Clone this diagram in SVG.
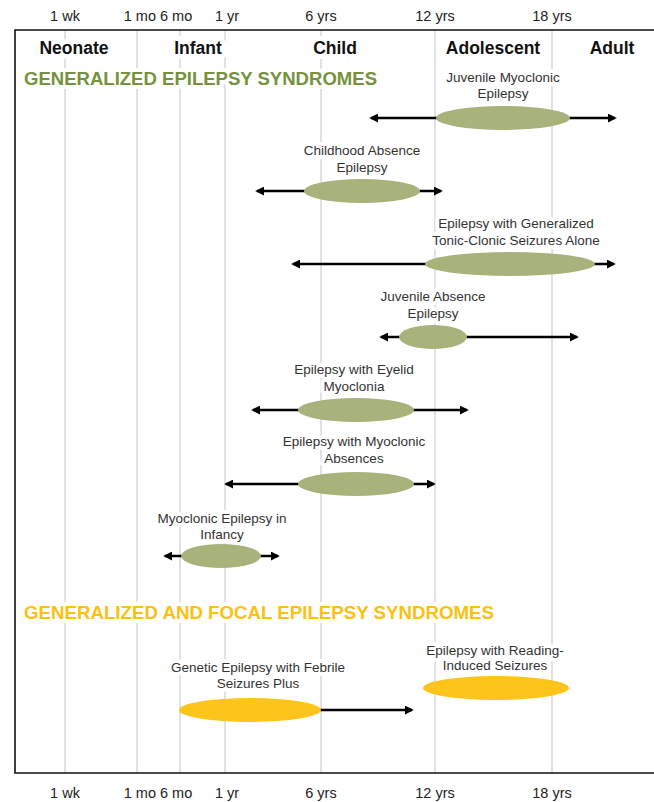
<svg xmlns="http://www.w3.org/2000/svg" width="654" height="802" viewBox="0 0 654 802">
<style>
  .tick{font-family:"Liberation Sans",Arial,sans-serif;font-size:14.5px;fill:#222;text-anchor:middle}
  .stage{font-family:"Liberation Sans",Arial,sans-serif;font-size:17.5px;font-weight:bold;fill:#111;text-anchor:middle;paint-order:stroke;stroke:#fff;stroke-width:10px;stroke-linejoin:round}
  .head{font-family:"Liberation Sans",Arial,sans-serif;font-size:18px;font-weight:bold;paint-order:stroke;stroke:#fff;stroke-width:8px;stroke-linejoin:round}
  .lbl{font-family:"Liberation Sans",Arial,sans-serif;font-size:13.5px;fill:#333;text-anchor:middle;paint-order:stroke;stroke:#fff;stroke-width:8px;stroke-linejoin:round}
  .grid{stroke:#c4c4c4;stroke-width:1}
  .frame{stroke:#111;stroke-width:1.6;fill:none}
  .arr{stroke:#000;stroke-width:2.5;fill:none}
  .olive{fill:#a8b37c}
  .gold{fill:#fdc419}
</style>
<defs>
  <marker id="ah" viewBox="0 0 10 10" refX="8" refY="5" markerWidth="9" markerHeight="9" markerUnits="userSpaceOnUse" orient="auto-start-reverse">
    <path d="M0,0 L10,5 L0,10 z" fill="#000"/>
  </marker>
</defs>
<rect width="654" height="802" fill="#fff"/>

<g id="axis-top">
  <text class="tick" x="65" y="21">1 wk</text>
  <text class="tick" x="158" y="21">1 mo 6 mo</text>
  <text class="tick" x="227" y="21">1 yr</text>
  <text class="tick" x="321" y="21">6 yrs</text>
  <text class="tick" x="435" y="21">12 yrs</text>
  <text class="tick" x="552" y="21">18 yrs</text>
</g>

<g id="grid">
  <line class="grid" x1="65" y1="30" x2="65" y2="773"/>
  <line class="grid" x1="137" y1="30" x2="137" y2="773"/>
  <line class="grid" x1="180" y1="30" x2="180" y2="773"/>
  <line class="grid" x1="225" y1="30" x2="225" y2="773"/>
  <line class="grid" x1="321" y1="30" x2="321" y2="773"/>
  <line class="grid" x1="435" y1="30" x2="435" y2="773"/>
  <line class="grid" x1="552" y1="30" x2="552" y2="773"/>
</g>

<g id="frame">
  <path class="frame" d="M654,30 H15 V773 H654"/>
</g>

<g id="stages">
  <text class="stage" x="74" y="54">Neonate</text>
  <text class="stage" x="198" y="54">Infant</text>
  <text class="stage" x="335" y="54">Child</text>
  <text class="stage" x="493" y="54">Adolescent</text>
  <text class="stage" x="612" y="54">Adult</text>
</g>

<g id="heading-generalized">
  <text class="head" x="24" y="85" fill="#76923c" textLength="353" lengthAdjust="spacingAndGlyphs">GENERALIZED EPILEPSY SYNDROMES</text>
</g>
<g id="heading-focal">
  <text class="head" x="24" y="619" fill="#fcc10f" textLength="470" lengthAdjust="spacingAndGlyphs">GENERALIZED AND FOCAL EPILEPSY SYNDROMES</text>
</g>

<g id="connectors">
  <line class="arr" x1="371" y1="118" x2="615" y2="118" marker-start="url(#ah)" marker-end="url(#ah)"/>
  <line class="arr" x1="257" y1="191" x2="441" y2="191" marker-start="url(#ah)" marker-end="url(#ah)"/>
  <line class="arr" x1="293" y1="264" x2="614" y2="264" marker-start="url(#ah)" marker-end="url(#ah)"/>
  <line class="arr" x1="381" y1="337" x2="577" y2="337" marker-start="url(#ah)" marker-end="url(#ah)"/>
  <line class="arr" x1="253" y1="410" x2="467" y2="410" marker-start="url(#ah)" marker-end="url(#ah)"/>
  <line class="arr" x1="226" y1="484" x2="434" y2="484" marker-start="url(#ah)" marker-end="url(#ah)"/>
  <line class="arr" x1="165" y1="556" x2="278" y2="556" marker-start="url(#ah)" marker-end="url(#ah)"/>
  <line class="arr" x1="320" y1="710" x2="412" y2="710" marker-end="url(#ah)"/>
</g>

<g id="jme">
  <text class="lbl" x="503" y="82">Juvenile Myoclonic</text>
  <text class="lbl" x="503" y="98">Epilepsy</text>
  <ellipse class="olive" cx="503" cy="118" rx="67" ry="12"/>
</g>
<g id="cae">
  <text class="lbl" x="362" y="155">Childhood Absence</text>
  <text class="lbl" x="362" y="172">Epilepsy</text>
  <ellipse class="olive" cx="362" cy="191" rx="58" ry="12"/>
</g>
<g id="egtcs">
  <text class="lbl" x="516" y="228">Epilepsy with Generalized</text>
  <text class="lbl" x="516" y="245">Tonic-Clonic Seizures Alone</text>
  <ellipse class="olive" cx="510" cy="264" rx="85" ry="12"/>
</g>
<g id="jae">
  <text class="lbl" x="433" y="301">Juvenile Absence</text>
  <text class="lbl" x="433" y="318">Epilepsy</text>
  <ellipse class="olive" cx="433" cy="337" rx="34" ry="12"/>
</g>
<g id="eem">
  <text class="lbl" x="354" y="374">Epilepsy with Eyelid</text>
  <text class="lbl" x="354" y="391">Myoclonia</text>
  <ellipse class="olive" cx="356" cy="410" rx="58" ry="12"/>
</g>
<g id="ema">
  <text class="lbl" x="354" y="446">Epilepsy with Myoclonic</text>
  <text class="lbl" x="354" y="463">Absences</text>
  <ellipse class="olive" cx="356" cy="484" rx="58" ry="12"/>
</g>
<g id="mei">
  <text class="lbl" x="222" y="523">Myoclonic Epilepsy in</text>
  <text class="lbl" x="222" y="539">Infancy</text>
  <ellipse class="olive" cx="221" cy="556" rx="40" ry="12"/>
</g>
<g id="gefs">
  <text class="lbl" x="258" y="672">Genetic Epilepsy with Febrile</text>
  <text class="lbl" x="258" y="688">Seizures Plus</text>
  <ellipse class="gold" cx="250" cy="710" rx="71" ry="12"/>
</g>
<g id="eris">
  <text class="lbl" x="495" y="655">Epilepsy with Reading-</text>
  <text class="lbl" x="495" y="670">Induced Seizures</text>
  <ellipse class="gold" cx="496" cy="688" rx="73" ry="12"/>
</g>

<g id="axis-bottom">
  <text class="tick" x="65" y="798">1 wk</text>
  <text class="tick" x="158" y="798">1 mo 6 mo</text>
  <text class="tick" x="227" y="798">1 yr</text>
  <text class="tick" x="321" y="798">6 yrs</text>
  <text class="tick" x="435" y="798">12 yrs</text>
  <text class="tick" x="552" y="798">18 yrs</text>
</g>
</svg>
